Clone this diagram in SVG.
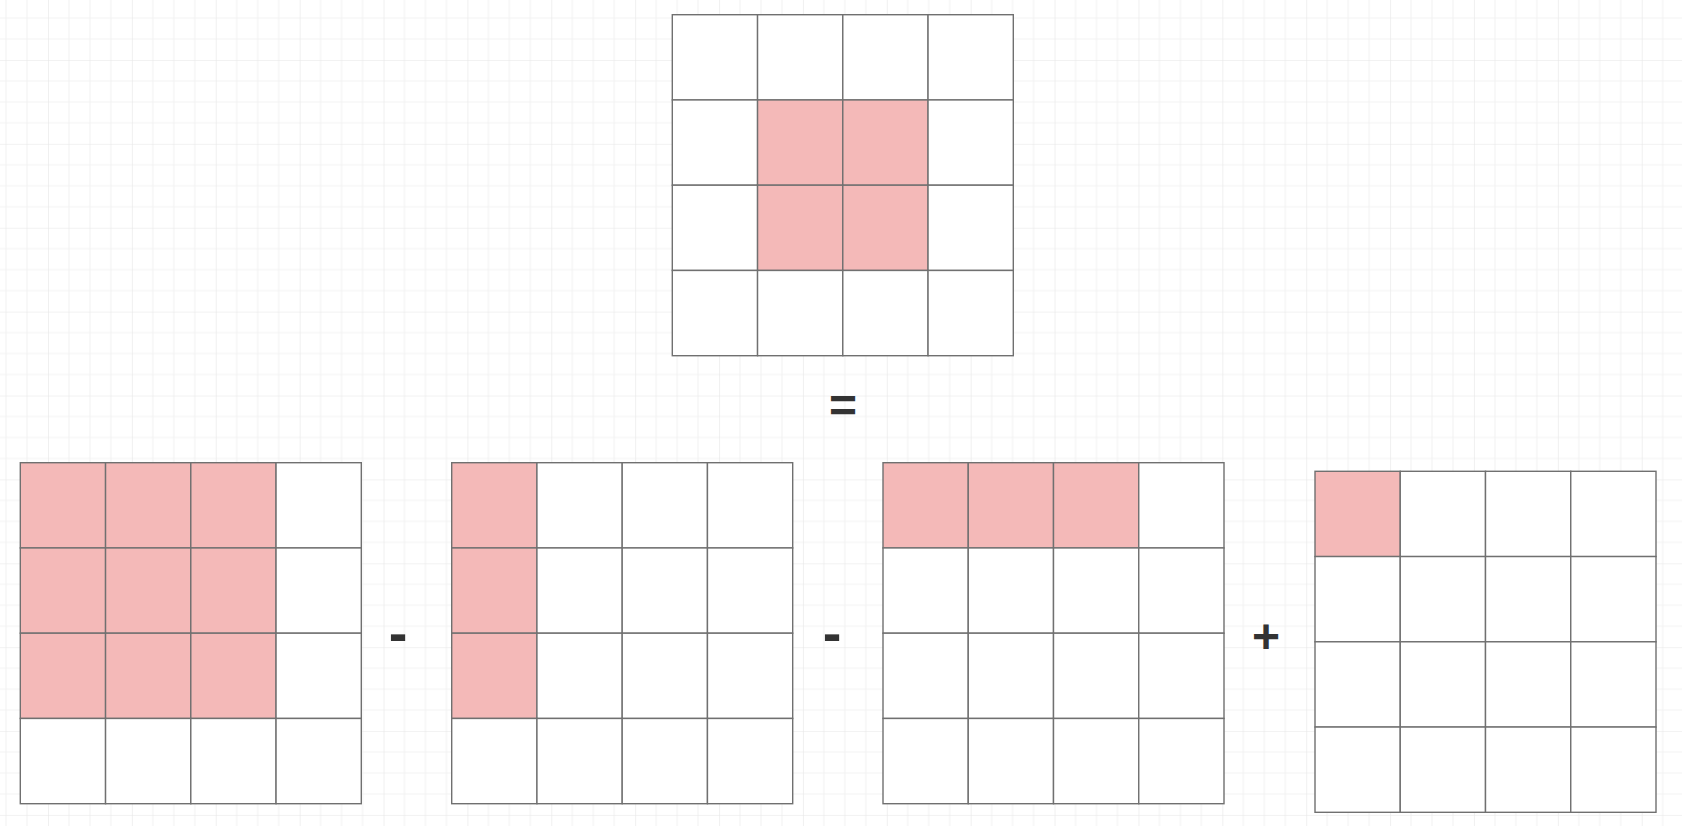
<svg xmlns="http://www.w3.org/2000/svg" width="1682" height="826" viewBox="0 0 1682 826">
<style>
.c{stroke:#707070;stroke-width:1.4;fill:#ffffff}
.p{fill:#f4b9b8}
.op{font-family:"Liberation Sans",Arial,sans-serif;font-weight:bold;font-size:48px;fill:#333333;text-anchor:middle}
.mi{font-size:56px}
</style>
<defs>
<pattern id="grid" patternUnits="userSpaceOnUse" x="48" y="60" width="83.88" height="83.88">
<g stroke="#f3f3f3" stroke-width="1.2" fill="none">
<path d="M20.97 0V83.88M41.94 0V83.88M62.91 0V83.88M0 20.97H83.88M0 41.94H83.88M0 62.91H83.88"/>
</g>
<g stroke="#e6e6e6" stroke-width="1.2" fill="none">
<path d="M0 0V83.88M0 0H83.88"/>
</g>
</pattern>
</defs>
<rect width="1682" height="826" fill="#ffffff"/>
<rect width="1682" height="826" fill="url(#grid)"/>

<g id="top-matrix" transform="translate(672.3,14.7)">
<rect class="c" x="0" y="0" width="85.25" height="85.25"/>
<rect class="c" x="85.25" y="0" width="85.25" height="85.25"/>
<rect class="c" x="170.5" y="0" width="85.25" height="85.25"/>
<rect class="c" x="255.75" y="0" width="85.25" height="85.25"/>
<rect class="c" x="0" y="85.25" width="85.25" height="85.25"/>
<rect class="c p" x="85.25" y="85.25" width="85.25" height="85.25"/>
<rect class="c p" x="170.5" y="85.25" width="85.25" height="85.25"/>
<rect class="c" x="255.75" y="85.25" width="85.25" height="85.25"/>
<rect class="c" x="0" y="170.5" width="85.25" height="85.25"/>
<rect class="c p" x="85.25" y="170.5" width="85.25" height="85.25"/>
<rect class="c p" x="170.5" y="170.5" width="85.25" height="85.25"/>
<rect class="c" x="255.75" y="170.5" width="85.25" height="85.25"/>
<rect class="c" x="0" y="255.75" width="85.25" height="85.25"/>
<rect class="c" x="85.25" y="255.75" width="85.25" height="85.25"/>
<rect class="c" x="170.5" y="255.75" width="85.25" height="85.25"/>
<rect class="c" x="255.75" y="255.75" width="85.25" height="85.25"/>
</g>

<g id="matrix-1" transform="translate(20.3,462.7)">
<rect class="c p" x="0" y="0" width="85.25" height="85.25"/>
<rect class="c p" x="85.25" y="0" width="85.25" height="85.25"/>
<rect class="c p" x="170.5" y="0" width="85.25" height="85.25"/>
<rect class="c" x="255.75" y="0" width="85.25" height="85.25"/>
<rect class="c p" x="0" y="85.25" width="85.25" height="85.25"/>
<rect class="c p" x="85.25" y="85.25" width="85.25" height="85.25"/>
<rect class="c p" x="170.5" y="85.25" width="85.25" height="85.25"/>
<rect class="c" x="255.75" y="85.25" width="85.25" height="85.25"/>
<rect class="c p" x="0" y="170.5" width="85.25" height="85.25"/>
<rect class="c p" x="85.25" y="170.5" width="85.25" height="85.25"/>
<rect class="c p" x="170.5" y="170.5" width="85.25" height="85.25"/>
<rect class="c" x="255.75" y="170.5" width="85.25" height="85.25"/>
<rect class="c" x="0" y="255.75" width="85.25" height="85.25"/>
<rect class="c" x="85.25" y="255.75" width="85.25" height="85.25"/>
<rect class="c" x="170.5" y="255.75" width="85.25" height="85.25"/>
<rect class="c" x="255.75" y="255.75" width="85.25" height="85.25"/>
</g>

<g id="matrix-2" transform="translate(451.7,462.7)">
<rect class="c p" x="0" y="0" width="85.25" height="85.25"/>
<rect class="c" x="85.25" y="0" width="85.25" height="85.25"/>
<rect class="c" x="170.5" y="0" width="85.25" height="85.25"/>
<rect class="c" x="255.75" y="0" width="85.25" height="85.25"/>
<rect class="c p" x="0" y="85.25" width="85.25" height="85.25"/>
<rect class="c" x="85.25" y="85.25" width="85.25" height="85.25"/>
<rect class="c" x="170.5" y="85.25" width="85.25" height="85.25"/>
<rect class="c" x="255.75" y="85.25" width="85.25" height="85.25"/>
<rect class="c p" x="0" y="170.5" width="85.25" height="85.25"/>
<rect class="c" x="85.25" y="170.5" width="85.25" height="85.25"/>
<rect class="c" x="170.5" y="170.5" width="85.25" height="85.25"/>
<rect class="c" x="255.75" y="170.5" width="85.25" height="85.25"/>
<rect class="c" x="0" y="255.75" width="85.25" height="85.25"/>
<rect class="c" x="85.25" y="255.75" width="85.25" height="85.25"/>
<rect class="c" x="170.5" y="255.75" width="85.25" height="85.25"/>
<rect class="c" x="255.75" y="255.75" width="85.25" height="85.25"/>
</g>

<g id="matrix-3" transform="translate(883,462.7)">
<rect class="c p" x="0" y="0" width="85.25" height="85.25"/>
<rect class="c p" x="85.25" y="0" width="85.25" height="85.25"/>
<rect class="c p" x="170.5" y="0" width="85.25" height="85.25"/>
<rect class="c" x="255.75" y="0" width="85.25" height="85.25"/>
<rect class="c" x="0" y="85.25" width="85.25" height="85.25"/>
<rect class="c" x="85.25" y="85.25" width="85.25" height="85.25"/>
<rect class="c" x="170.5" y="85.25" width="85.25" height="85.25"/>
<rect class="c" x="255.75" y="85.25" width="85.25" height="85.25"/>
<rect class="c" x="0" y="170.5" width="85.25" height="85.25"/>
<rect class="c" x="85.25" y="170.5" width="85.25" height="85.25"/>
<rect class="c" x="170.5" y="170.5" width="85.25" height="85.25"/>
<rect class="c" x="255.75" y="170.5" width="85.25" height="85.25"/>
<rect class="c" x="0" y="255.75" width="85.25" height="85.25"/>
<rect class="c" x="85.25" y="255.75" width="85.25" height="85.25"/>
<rect class="c" x="170.5" y="255.75" width="85.25" height="85.25"/>
<rect class="c" x="255.75" y="255.75" width="85.25" height="85.25"/>
</g>

<g id="matrix-4" transform="translate(1315,471.3)">
<rect class="c p" x="0" y="0" width="85.25" height="85.25"/>
<rect class="c" x="85.25" y="0" width="85.25" height="85.25"/>
<rect class="c" x="170.5" y="0" width="85.25" height="85.25"/>
<rect class="c" x="255.75" y="0" width="85.25" height="85.25"/>
<rect class="c" x="0" y="85.25" width="85.25" height="85.25"/>
<rect class="c" x="85.25" y="85.25" width="85.25" height="85.25"/>
<rect class="c" x="170.5" y="85.25" width="85.25" height="85.25"/>
<rect class="c" x="255.75" y="85.25" width="85.25" height="85.25"/>
<rect class="c" x="0" y="170.5" width="85.25" height="85.25"/>
<rect class="c" x="85.25" y="170.5" width="85.25" height="85.25"/>
<rect class="c" x="170.5" y="170.5" width="85.25" height="85.25"/>
<rect class="c" x="255.75" y="170.5" width="85.25" height="85.25"/>
<rect class="c" x="0" y="255.75" width="85.25" height="85.25"/>
<rect class="c" x="85.25" y="255.75" width="85.25" height="85.25"/>
<rect class="c" x="170.5" y="255.75" width="85.25" height="85.25"/>
<rect class="c" x="255.75" y="255.75" width="85.25" height="85.25"/>
</g>

<g id="operators">
<text id="op-eq" class="op" x="843" y="422">=</text>
<text id="op-minus-1" class="op mi" x="398" y="652">-</text>
<text id="op-minus-2" class="op mi" x="832" y="652">-</text>
<text id="op-plus" class="op" x="1266" y="653">+</text>
</g>
<g id="connectors"/>
</svg>
